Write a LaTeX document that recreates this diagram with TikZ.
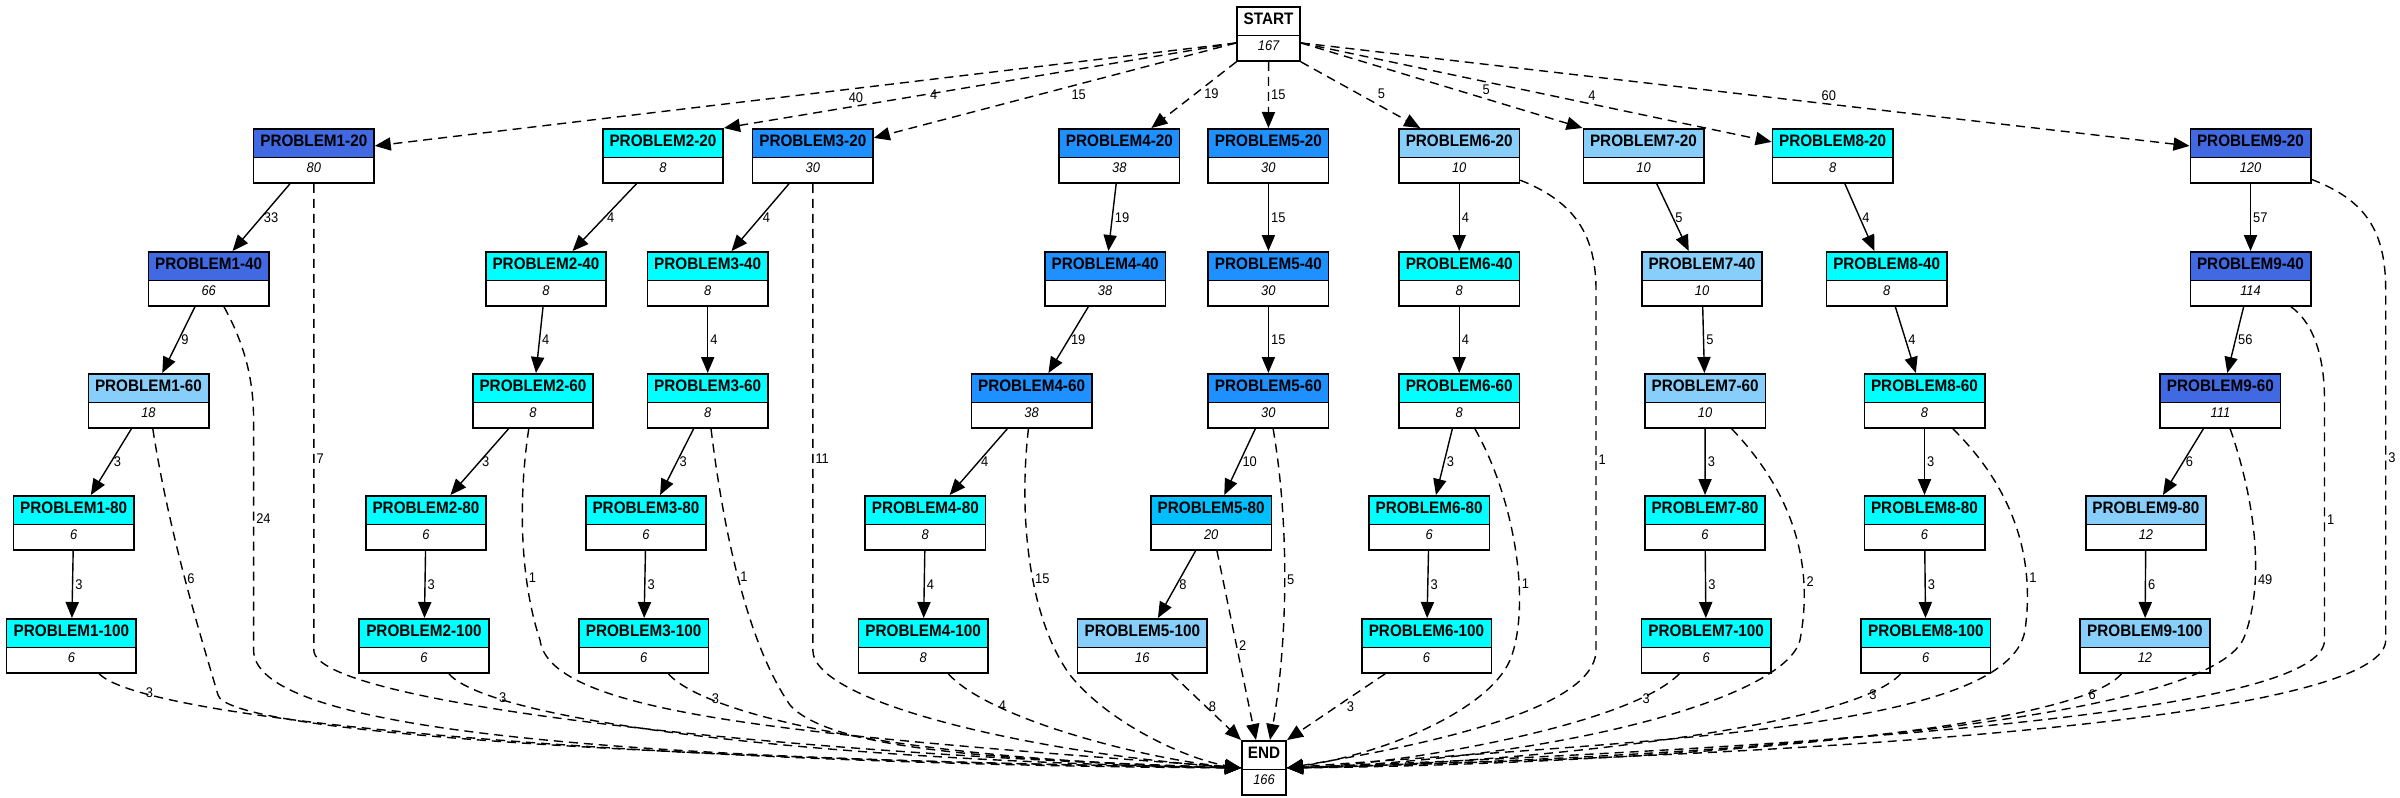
\documentclass[tikz,border=0pt]{standalone}
\usepackage{fontspec}
\setmainfont[FakeStretch=0.92]{Liberation Sans}
\usetikzlibrary{arrows.meta,shapes.multipart}
\definecolor{royal}{HTML}{4169E1}
\definecolor{dodger}{HTML}{1E90FF}
\definecolor{deepsky}{HTML}{00BFFF}
\definecolor{lightsky}{HTML}{87CEFA}
\definecolor{aqua}{HTML}{00FFFF}
\newcommand{\ptitle}{\rule[-5pt]{0pt}{13.5pt}\fontsize{8.3pt}{10pt}\selectfont\bfseries}
\newcommand{\pcount}{\rule[-5pt]{0pt}{12pt}\fontsize{7pt}{8pt}\selectfont\itshape}

\begin{document}
\begin{tikzpicture}[x=0.5pt, y=-0.5pt,
    pbox/.style={rectangle split, rectangle split parts=2, draw, line width=0.8pt,
      inner sep=0pt, minimum width=60.2pt, anchor=north,
      rectangle split part fill={#1,white}},
    wide/.style={minimum width=64.8pt},
    link/.style={-{Triangle[length=8pt,width=6.6pt]}, line width=0.7pt},
    dlink/.style={link, dash pattern=on 4.5pt off 3pt},
    cnt/.style={font=\fontsize{7pt}{8pt}\selectfont, inner sep=1pt}]
    \useasboundingbox (0,0) rectangle (2400,798);
    % start and end
    \node[pbox=white, minimum width=31.4pt] (START) at (1268.6,6) {\ptitle START\nodepart{two}\pcount 167};
    \node[pbox=white, minimum width=22.2pt] (END) at (1264,740) {\ptitle END\nodepart{two}\pcount 166};
    % row 20
    \node[pbox=royal] (p1-20) at (313.8,128) {\ptitle PROBLEM1-20\nodepart{two}\pcount 80};
    \node[pbox=aqua] (p2-20) at (663,128) {\ptitle PROBLEM2-20\nodepart{two}\pcount 8};
    \node[pbox=dodger] (p3-20) at (812.8,128) {\ptitle PROBLEM3-20\nodepart{two}\pcount 30};
    \node[pbox=dodger] (p4-20) at (1119.4,128) {\ptitle PROBLEM4-20\nodepart{two}\pcount 38};
    \node[pbox=dodger] (p5-20) at (1268.4,128) {\ptitle PROBLEM5-20\nodepart{two}\pcount 30};
    \node[pbox=lightsky] (p6-20) at (1459.2,128) {\ptitle PROBLEM6-20\nodepart{two}\pcount 10};
    \node[pbox=lightsky] (p7-20) at (1643.5,128) {\ptitle PROBLEM7-20\nodepart{two}\pcount 10};
    \node[pbox=aqua] (p8-20) at (1832.6,128) {\ptitle PROBLEM8-20\nodepart{two}\pcount 8};
    \node[pbox=royal] (p9-20) at (2250.5,128) {\ptitle PROBLEM9-20\nodepart{two}\pcount 120};
    % row 40
    \node[pbox=royal] (p1-40) at (208.7,251) {\ptitle PROBLEM1-40\nodepart{two}\pcount 66};
    \node[pbox=aqua] (p2-40) at (546,251) {\ptitle PROBLEM2-40\nodepart{two}\pcount 8};
    \node[pbox=aqua] (p3-40) at (707.7,251) {\ptitle PROBLEM3-40\nodepart{two}\pcount 8};
    \node[pbox=dodger] (p4-40) at (1105.1,251) {\ptitle PROBLEM4-40\nodepart{two}\pcount 38};
    \node[pbox=dodger] (p5-40) at (1268.4,251) {\ptitle PROBLEM5-40\nodepart{two}\pcount 30};
    \node[pbox=aqua] (p6-40) at (1459.2,251) {\ptitle PROBLEM6-40\nodepart{two}\pcount 8};
    \node[pbox=lightsky] (p7-40) at (1702,251) {\ptitle PROBLEM7-40\nodepart{two}\pcount 10};
    \node[pbox=aqua] (p8-40) at (1886.7,251) {\ptitle PROBLEM8-40\nodepart{two}\pcount 8};
    \node[pbox=royal] (p9-40) at (2250.5,251) {\ptitle PROBLEM9-40\nodepart{two}\pcount 114};
    % row 60
    \node[pbox=lightsky] (p1-60) at (148.5,373) {\ptitle PROBLEM1-60\nodepart{two}\pcount 18};
    \node[pbox=aqua] (p2-60) at (533,373) {\ptitle PROBLEM2-60\nodepart{two}\pcount 8};
    \node[pbox=aqua] (p3-60) at (707.7,373) {\ptitle PROBLEM3-60\nodepart{two}\pcount 8};
    \node[pbox=dodger] (p4-60) at (1031.6,373) {\ptitle PROBLEM4-60\nodepart{two}\pcount 38};
    \node[pbox=dodger] (p5-60) at (1268.4,373) {\ptitle PROBLEM5-60\nodepart{two}\pcount 30};
    \node[pbox=aqua] (p6-60) at (1459.2,373) {\ptitle PROBLEM6-60\nodepart{two}\pcount 8};
    \node[pbox=lightsky] (p7-60) at (1705.1,373) {\ptitle PROBLEM7-60\nodepart{two}\pcount 10};
    \node[pbox=aqua] (p8-60) at (1924.5,373) {\ptitle PROBLEM8-60\nodepart{two}\pcount 8};
    \node[pbox=royal] (p9-60) at (2220.4,373) {\ptitle PROBLEM9-60\nodepart{two}\pcount 111};
    % row 80
    \node[pbox=aqua] (p1-80) at (73.7,495) {\ptitle PROBLEM1-80\nodepart{two}\pcount 6};
    \node[pbox=aqua] (p2-80) at (426,495) {\ptitle PROBLEM2-80\nodepart{two}\pcount 6};
    \node[pbox=aqua] (p3-80) at (646,495) {\ptitle PROBLEM3-80\nodepart{two}\pcount 6};
    \node[pbox=aqua] (p4-80) at (925.3,495) {\ptitle PROBLEM4-80\nodepart{two}\pcount 8};
    \node[pbox=deepsky] (p5-80) at (1211.2,495) {\ptitle PROBLEM5-80\nodepart{two}\pcount 20};
    \node[pbox=aqua] (p6-80) at (1429.1,495) {\ptitle PROBLEM6-80\nodepart{two}\pcount 6};
    \node[pbox=aqua] (p7-80) at (1705,495) {\ptitle PROBLEM7-80\nodepart{two}\pcount 6};
    \node[pbox=aqua] (p8-80) at (1924.5,495) {\ptitle PROBLEM8-80\nodepart{two}\pcount 6};
    \node[pbox=lightsky] (p9-80) at (2145.9,495) {\ptitle PROBLEM9-80\nodepart{two}\pcount 12};
    % row 100
    \node[pbox=aqua, wide] (p1-100) at (71.4,618) {\ptitle PROBLEM1-100\nodepart{two}\pcount 6};
    \node[pbox=aqua, wide] (p2-100) at (424,618) {\ptitle PROBLEM2-100\nodepart{two}\pcount 6};
    \node[pbox=aqua, wide] (p3-100) at (643.6,618) {\ptitle PROBLEM3-100\nodepart{two}\pcount 6};
    \node[pbox=aqua, wide] (p4-100) at (923.2,618) {\ptitle PROBLEM4-100\nodepart{two}\pcount 8};
    \node[pbox=lightsky, wide] (p5-100) at (1142.3,618) {\ptitle PROBLEM5-100\nodepart{two}\pcount 16};
    \node[pbox=aqua, wide] (p6-100) at (1426.5,618) {\ptitle PROBLEM6-100\nodepart{two}\pcount 6};
    \node[pbox=aqua, wide] (p7-100) at (1706.1,618) {\ptitle PROBLEM7-100\nodepart{two}\pcount 6};
    \node[pbox=aqua, wide] (p8-100) at (1925.8,618) {\ptitle PROBLEM8-100\nodepart{two}\pcount 6};
    \node[pbox=lightsky, wide] (p9-100) at (2144.9,618) {\ptitle PROBLEM9-100\nodepart{two}\pcount 12};
    % from start
    \draw[dlink] ([yshift=-4.5pt]START.west) -- ([yshift=5pt]p1-20.east) node[cnt, pos=.453, anchor=north west] {40};
    \draw[dlink] ([yshift=-4.5pt]START.west) -- (p2-20.north east) node[cnt, pos=.603, anchor=west] {4};
    \draw[dlink] ([yshift=-4.5pt]START.west) -- ([yshift=9pt]p3-20.east) node[cnt, pos=.462, anchor=north west] {15};
    \draw[dlink] (START.south west) -- ([xshift=16pt]p4-20.north) node[cnt, pos=.48, right=3pt] {19};
    \draw[dlink] (START) -- (p5-20) node[cnt, midway, right] {15};
    \draw[dlink] (START.south east) -- ([xshift=-19.5pt]p6-20.north) node[cnt, pos=.48, right=8.5pt] {5};
    \draw[dlink] ([yshift=-4.5pt]START.east) -- (p7-20.north west) node[cnt, pos=.636, anchor=south west] {5};
    \draw[dlink] ([yshift=-4.5pt]START.east) -- ([yshift=7pt]p8-20.west) node[cnt, pos=.605, anchor=south west] {4};
    \draw[dlink] ([yshift=-4.5pt]START.east) -- ([yshift=5pt]p9-20.west) node[cnt, pos=.583, anchor=south west] {60};
    % problem chains
    \draw[link] (p1-20) -- (p1-40) node[cnt, midway, right] {33};
    \draw[link] (p1-40) -- (p1-60) node[cnt, midway, right] {9};
    \draw[link] (p1-60) -- (p1-80) node[cnt, midway, right] {3};
    \draw[link] (p1-80) -- (p1-100) node[cnt, midway, right] {3};
    \draw[link] (p2-20) -- (p2-40) node[cnt, midway, right] {4};
    \draw[link] (p2-40) -- (p2-60) node[cnt, midway, right] {4};
    \draw[link] (p2-60) -- (p2-80) node[cnt, midway, right] {3};
    \draw[link] (p2-80) -- (p2-100) node[cnt, midway, right] {3};
    \draw[link] (p3-20) -- (p3-40) node[cnt, midway, right] {4};
    \draw[link] (p3-40) -- (p3-60) node[cnt, midway, right] {4};
    \draw[link] (p3-60) -- (p3-80) node[cnt, midway, right] {3};
    \draw[link] (p3-80) -- (p3-100) node[cnt, midway, right] {3};
    \draw[link] (p4-20) -- (p4-40) node[cnt, midway, right] {19};
    \draw[link] (p4-40) -- (p4-60) node[cnt, midway, right] {19};
    \draw[link] (p4-60) -- (p4-80) node[cnt, midway, right] {4};
    \draw[link] (p4-80) -- (p4-100) node[cnt, midway, right] {4};
    \draw[link] (p5-20) -- (p5-40) node[cnt, midway, right] {15};
    \draw[link] (p5-40) -- (p5-60) node[cnt, midway, right] {15};
    \draw[link] (p5-60) -- (p5-80) node[cnt, midway, right] {10};
    \draw[link] (p5-80) -- (p5-100) node[cnt, midway, right] {8};
    \draw[link] (p6-20) -- (p6-40) node[cnt, midway, right] {4};
    \draw[link] (p6-40) -- (p6-60) node[cnt, midway, right] {4};
    \draw[link] (p6-60) -- (p6-80) node[cnt, midway, right] {3};
    \draw[link] (p6-80) -- (p6-100) node[cnt, midway, right] {3};
    \draw[link] (p7-20) -- (p7-40) node[cnt, midway, right] {5};
    \draw[link] (p7-40) -- (p7-60) node[cnt, midway, right] {5};
    \draw[link] (p7-60) -- (p7-80) node[cnt, midway, right] {3};
    \draw[link] (p7-80) -- (p7-100) node[cnt, midway, right] {3};
    \draw[link] (p8-20) -- (p8-40) node[cnt, midway, right] {4};
    \draw[link] (p8-40) -- (p8-60) node[cnt, midway, right] {4};
    \draw[link] (p8-60) -- (p8-80) node[cnt, midway, right] {3};
    \draw[link] (p8-80) -- (p8-100) node[cnt, midway, right] {3};
    \draw[link] (p9-20) -- (p9-40) node[cnt, midway, right] {57};
    \draw[link] (p9-40) -- (p9-60) node[cnt, midway, right] {56};
    \draw[link] (p9-60) -- (p9-80) node[cnt, midway, right] {6};
    \draw[link] (p9-80) -- (p9-100) node[cnt, midway, right] {6};
    % to end, left side
    \draw[dlink] (p1-20) -- (313.8,650) node[cnt, pos=.59, right] {7} .. controls (313.8,705) and (800,755) .. (END.west);
    \draw[dlink] (p1-40) .. controls (245,345) and (253.6,380) .. (253.6,420) -- (253.6,650) node[cnt, pos=.43, right] {24} .. controls (253.6,740) and (700,760) .. (END.west);
    \draw[dlink] (p1-60) .. controls (170,540) and (205,650) .. (218,695) node[cnt, pos=.47, right] {6} .. controls (228,730) and (600,758) .. (END.west);
    \draw[dlink] (p1-100) .. controls (150,725) and (700,765) .. (END.west) node[cnt, pos=.13, right] {3};
    \draw[dlink] (p2-60) .. controls (518,500) and (520,580) .. (540,640) node[cnt, pos=.68, right] {1} .. controls (550,715) and (800,735) .. (END.west);
    \draw[dlink] (p2-100) .. controls (490,720) and (800,760) .. (END.west) node[cnt, pos=.18, right] {3};
    \draw[dlink] (p3-20) -- (812.8,650) node[cnt, pos=.59, right] {11} .. controls (812.8,705) and (1050,755) .. (END.west);
    \draw[dlink] (p3-60) .. controls (722,520) and (745,640) .. (790,705) node[cnt, pos=.5, right] {1} .. controls (830,750) and (1000,760) .. (END.west);
    \draw[dlink] (p3-100) .. controls (705,715) and (900,760) .. (END.west) node[cnt, pos=.2, right] {3};
    \draw[dlink] (p4-60) .. controls (1018,520) and (1030,620) .. (1070,675) node[cnt, pos=.55, right] {15} .. controls (1110,725) and (1190,760) .. (END.west);
    \draw[dlink] (p4-100) .. controls (990,720) and (1150,760) .. (END.west) node[cnt, pos=.24, right] {4};
    % to end, from above
    \draw[dlink] (p5-100) -- (END.north west) node[cnt, midway, right] {8};
    \draw[dlink] (p5-80) -- ([xshift=-4pt]END.north) node[cnt, midway, right] {2};
    \draw[dlink] (p5-60) .. controls (1292,540) and (1285,660) .. ([xshift=3pt]END.north) node[cnt, pos=.45, right] {5};
    \draw[dlink] (p6-100) -- (END.north east) node[cnt, midway, right=4pt] {3};
    % to end, right side
    \draw[dlink] (p6-20) .. controls (1570,200) and (1596,230) .. (1596,290) -- (1596,650) node[cnt, pos=.47, right] {1} .. controls (1596,690) and (1520,730) .. (END.east);
    \draw[dlink] (p6-60) .. controls (1515,500) and (1530,600) .. (1512,655) node[cnt, pos=.65, right] {1} .. controls (1494,710) and (1380,755) .. (END.east);
    \draw[dlink] (p7-60) .. controls (1790,490) and (1815,560) .. (1800,640) node[cnt, pos=.75, right] {2} .. controls (1785,700) and (1550,760) .. (END.east);
    \draw[dlink] (p7-100) .. controls (1630,725) and (1400,765) .. (END.east) node[cnt, pos=.17, right] {3};
    \draw[dlink] (p8-60) .. controls (2015,490) and (2035,560) .. (2025,630) node[cnt, pos=.75, right] {1} .. controls (2010,730) and (1650,740) .. (END.east);
    \draw[dlink] (p8-100) .. controls (1850,730) and (1500,765) .. (END.east) node[cnt, pos=.13, right] {3};
    \draw[dlink] (p9-60) .. controls (2255,500) and (2265,580) .. (2245,635) node[cnt, pos=.7, right] {49} .. controls (2220,715) and (1800,755) .. (END.east);
    \draw[dlink] (p9-100) .. controls (2070,735) and (1600,765) .. (END.east) node[cnt, pos=.12, right] {6};
    \draw[dlink] (p9-40) .. controls (2310,320) and (2324.5,350) .. (2324.5,400) -- (2324.5,640) node[cnt, pos=.5, right] {1} .. controls (2324.5,700) and (2000,740) .. (END.east);
    \draw[dlink] (p9-20) .. controls (2365,200) and (2385.7,230) .. (2385.7,290) -- (2385.7,640) node[cnt, pos=.48, right] {3} .. controls (2385.7,705) and (2000,750) .. (END.east);
  \end{tikzpicture}
\end{document}
